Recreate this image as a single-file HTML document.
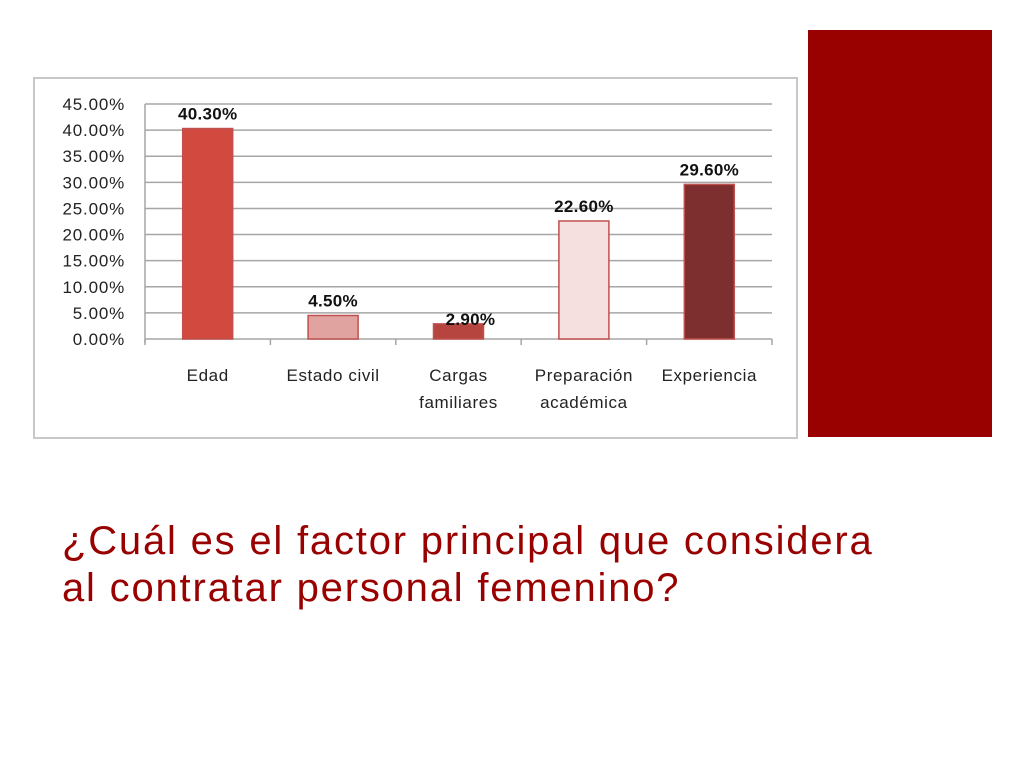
<!DOCTYPE html>
<html><head><meta charset="utf-8"><style>
body{margin:0;width:1024px;height:768px;background:#fff;position:relative;overflow:hidden;font-family:"Liberation Sans",sans-serif}
#chart-box{position:absolute;left:33px;top:77px;width:761px;height:358px;border:2px solid #c8c8c8;background:#fff}
#red-panel{position:absolute;left:808px;top:30px;width:184px;height:407px;background:#990000}
#title{position:absolute;left:62px;top:518px;font-size:40px;letter-spacing:1.8px;line-height:47px;color:#990000;margin:0;font-weight:normal;white-space:nowrap}
</style></head><body>
<div id="chart-box"></div>
<svg id="svg" width="1024" height="768" style="position:absolute;left:0;top:0"></svg>
<div id="red-panel"></div>
<h1 id="title">¿Cuál es el factor principal que considera<br>al contratar personal femenino?</h1>
<script>
const categories=[["Edad"],["Estado civil"],["Cargas","familiares"],["Preparación","académica"],["Experiencia"]];
const values=[40.3,4.5,2.9,22.6,29.6];
const valueLabels=["40.30%","4.50%","2.90%","22.60%","29.60%"];
const tickValues=[0,5,10,15,20,25,30,35,40,45];
const tickLabels=["0.00%","5.00%","10.00%","15.00%","20.00%","25.00%","30.00%","35.00%","40.00%","45.00%"];
const fills=["#d24a3f","#e0a3a0","#b5453e","#f6e0df","#7d2e2e"];
const strokes=["#c0504d","#c0504d","#c0504d","#c0504d","#c0504d"];
const svg=document.getElementById('svg');const NS='http://www.w3.org/2000/svg';
const x0=145,x1=772,y0=339,yTop=104,maxV=45;
const y=v=>y0-(v/maxV)*(y0-yTop);
const bw=(x1-x0)/categories.length;
function mk(t,a){const e=document.createElementNS(NS,t);for(const k in a)e.setAttribute(k,a[k]);svg.appendChild(e);return e;}
tickValues.forEach((v,i)=>{
 const g=mk('line',{x1:x0,x2:x1,y1:y(v),y2:y(v),stroke:'#a6a6a6','stroke-width':1.5});
 
 
 const t=mk('text',{x:x0-20,y:y(v)+6,'text-anchor':'end','font-size':17,'letter-spacing':0.8,fill:'#222'});
 t.textContent=tickLabels[i];
 
 
});
const ax=mk('line',{x1:x0,x2:x0,y1:yTop,y2:y0+4,stroke:'#a6a6a6','stroke-width':1.5});


for(let i=0;i<=categories.length;i++){
 const tk=mk('line',{x1:x0+i*bw,x2:x0+i*bw,y1:y0,y2:y0+6,stroke:'#a6a6a6','stroke-width':1.5});
 
 
}
categories.forEach((c,i)=>{
 const cx=x0+bw*(i+0.5);
 const r=mk('rect',{x:cx-25,y:y(values[i]),width:50,height:y0-y(values[i]),fill:fills[i],stroke:strokes[i],'stroke-width':1.5});
 
 
 const lbl=mk('text',{x:cx+(i==2?12:0),y:y(values[i])-(i==2?-1:9),'text-anchor':'middle','font-size':17,'font-weight':'bold','letter-spacing':0.3,fill:'#111'});
 lbl.textContent=valueLabels[i];
 
 
 c.forEach((line,j)=>{
  const t=mk('text',{x:cx,y:381+j*27,'text-anchor':'middle','font-size':17,'letter-spacing':0.6,fill:'#222'});
  t.textContent=line;
  
  
 });
});
</script>
</body></html>
